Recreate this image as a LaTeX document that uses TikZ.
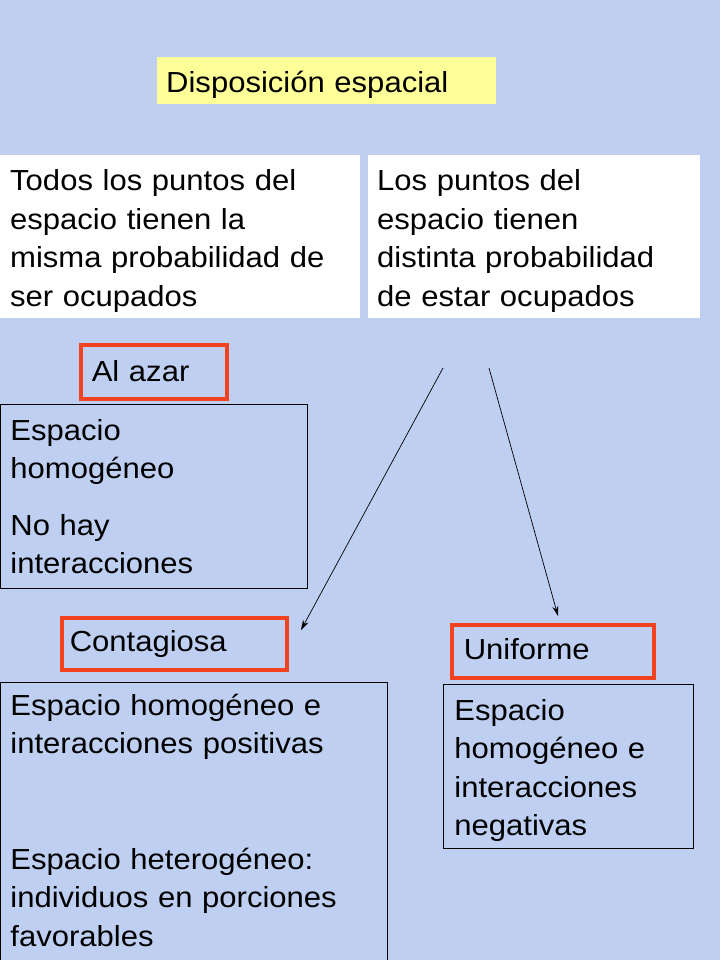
\documentclass[tikz,border=0pt]{standalone}
\usepackage{fontspec}
\setmainfont{Liberation Sans}[FakeStretch=1.07]
\usepackage{tikz}
\usetikzlibrary{arrows.meta, positioning}
\usepackage{xcolor}

\definecolor{slidebg}{RGB}{190,207,242}
\definecolor{titleyellow}{RGB}{255,255,153}
\definecolor{boxred}{RGB}{242,66,30}

\newcommand{\slidefont}{\fontsize{29pt}{38.5pt}\selectfont}

\begin{document}
\begin{tikzpicture}[x=1pt, y=-1pt,
        box/.style={anchor=north west, inner ysep=0pt, align=left, font=\slidefont},
        whitebox/.style={box, fill=white},
        redbox/.style={box, draw=boxred, line width=3.5pt},
        plainbox/.style={box, draw=black, line width=0.8pt},
        link/.style={-{Stealth[length=10pt, width=6pt]}, line width=0.7pt}]
        % Background
        \fill[slidebg] (0,0) rectangle (720,960);
        \useasboundingbox (0,0) rectangle (720,960);

        % Title
        \node[box, fill=titleyellow, inner xsep=9pt, text width=321pt,
              text height=35pt, text depth=12pt] (title) at (157,57) {Disposición espacial};

        % Two definitions
        \node[whitebox, inner xsep=10pt, text width=340pt,
              text height=35.7pt, text depth=127.3pt] (todos) at (0,155)
              {Todos los puntos del\\espacio tienen la\\misma probabilidad de\\ser ocupados};
        \node[whitebox, inner xsep=9pt, text width=314pt,
              text height=35.7pt, text depth=127.3pt] (distinta) at (368,155)
              {Los puntos del\\espacio tienen\\distinta probabilidad\\de estar ocupados};

        % Al azar
        \node[redbox, inner xsep=11pt, text width=124pt,
              text height=37pt, text depth=17pt] (azar) at (79,343) {Al azar};
        \node[plainbox, inner xsep=10pt, text width=287pt,
              text height=36pt, text depth=148pt] (azartxt) at (0,404)
              {Espacio\\homogéneo\\[18pt]No hay\\interacciones};

        % Contagiosa
        \node[redbox, inner xsep=8pt, text width=209pt,
              text height=34pt, text depth=18pt] (contagiosa) at (60,616) {Contagiosa};
        \node[plainbox, inner xsep=10pt, text width=367pt,
              text height=33pt, text depth=275pt] (contatxt) at (0,682)
              {Espacio homogéneo e\\interacciones positivas\\[77pt]Espacio heterogéneo:\\individuos en porciones\\favorables};

        % Uniforme
        \node[redbox, inner xsep=12pt, text width=178pt,
              text height=35pt, text depth=18pt] (uniforme) at (450,623) {Uniforme};
        \node[plainbox, inner xsep=11pt, text width=228pt,
              text height=36pt, text depth=128pt] (uniftxt) at (443,684)
              {Espacio\\homogéneo e\\interacciones\\negativas};

        % Arrows
        \coordinate (fromA) at (443,368);
        \coordinate (toA) at (301,630);
        \coordinate (fromB) at (489,368);
        \coordinate (toB) at (558,616);
        \draw[link] (fromA) -- (toA);
        \draw[link] (fromB) -- (toB);
    \end{tikzpicture}
\end{document}
